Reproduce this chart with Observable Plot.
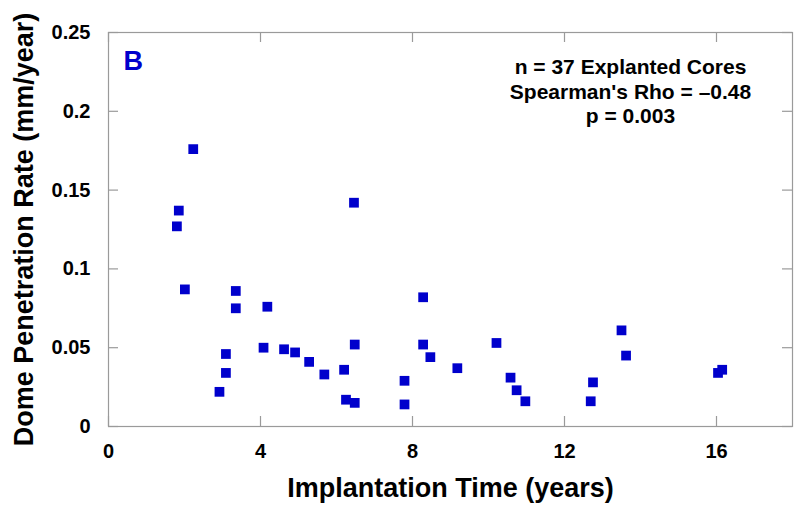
<!DOCTYPE html>
<html>
<head>
<meta charset="utf-8">
<script src="https://cdn.jsdelivr.net/npm/d3@7"></script>
<script src="https://cdn.jsdelivr.net/npm/@observablehq/plot@0.6"></script>
<style>
  html, body { margin: 0; padding: 0; background: #fff; }
</style>
</head>
<body>
<div id="chart"></div>
<script>
// Implantation time (years) and dome penetration rate (mm/year)
const years = [1.80, 1.85, 2.01, 2.23, 2.92, 3.09, 3.09, 3.35, 3.35, 4.08, 4.18, 4.62, 4.91, 5.28, 5.68, 6.20, 6.25, 6.46, 6.48, 6.48, 7.79, 7.79, 8.28, 8.28, 8.47, 9.18, 10.21, 10.58, 10.74, 10.97, 12.69, 12.75, 13.50, 13.62, 16.04, 16.15];
const rates = [0.127, 0.137, 0.087, 0.176, 0.022, 0.046, 0.034, 0.086, 0.075, 0.050, 0.076, 0.049, 0.047, 0.041, 0.033, 0.036, 0.017, 0.142, 0.052, 0.015, 0.029, 0.014, 0.082, 0.052, 0.044, 0.037, 0.053, 0.031, 0.023, 0.016, 0.016, 0.028, 0.061, 0.045, 0.034, 0.036];

const xTicks = [0, 4, 8, 12, 16];
const yTicks = [0, 0.05, 0.1, 0.15, 0.2, 0.25];
const yTickLabels = ["0", "0.05", "0.1", "0.15", "0.2", "0.25"];

const panelLabel = "B";
const statLines = ["n = 37 Explanted Cores", "Spearman's Rho = \u20130.48", "p = 0.003"];
const xTitle = "Implantation Time (years)";
const yTitle = "Dome Penetration Rate (mm/year)";

const points = years.map((x, i) => ({x, y: rates[i]}));

const W = 800, H = 509;
const mL = 108, mR = 8, mT = 32, mB = 83;
const innerW = W - mL - mR, innerH = H - mT - mB;
const tickLen = 10;
const axisGray = "#9a9a9a";
const blue = "#0000cc";

const statBaselines = [41, 66, 90];
const statMarks = statLines.map((s, i) =>
  Plot.text([s], {text: d => d, frameAnchor: "top-left", textAnchor: "middle", lineAnchor: "bottom",
    dx: 522, dy: statBaselines[i], fontSize: 21, fontWeight: "bold", fill: "#000"}));

const chart = Plot.plot({
  width: W,
  height: H,
  marginLeft: mL,
  marginRight: mR,
  marginTop: mT,
  marginBottom: mB,
  style: {fontFamily: "'Liberation Sans', Arial, sans-serif", fontSize: "20px", background: "#fff", color: "#000"},
  x: {domain: [0, 18]},
  y: {domain: [0, 0.25]},
  marks: [
    Plot.frame({stroke: axisGray, strokeWidth: 1.2}),
    // inward ticks on all four sides
    Plot.tickX(xTicks, {x: d => d, insetTop: innerH - tickLen, stroke: axisGray, strokeWidth: 1.2}),
    Plot.tickX(xTicks, {x: d => d, insetBottom: innerH - tickLen, stroke: axisGray, strokeWidth: 1.2}),
    Plot.tickY(yTicks, {y: d => d, insetRight: innerW - tickLen, stroke: axisGray, strokeWidth: 1.2}),
    Plot.tickY(yTicks, {y: d => d, insetLeft: innerW - tickLen, stroke: axisGray, strokeWidth: 1.2}),
    Plot.axisX(xTicks, {tickSize: 0, tickPadding: 17, fontSize: 20, fontWeight: "bold", fill: "#000", label: null, tickFormat: d => String(d)}),
    Plot.axisY(yTicks, {tickSize: 0, tickPadding: 18, fontSize: 20, fontWeight: "bold", fill: "#000", label: null, tickFormat: (d, i) => yTickLabels[i]}),
    Plot.dot(points, {x: "x", y: "y", symbol: "square", r: 5.5, fill: blue, stroke: null}),
    // titles
    Plot.text([xTitle], {text: d => d, frameAnchor: "bottom", textAnchor: "middle", lineAnchor: "bottom", dy: 70, fontSize: 27, fontWeight: "bold", fill: "#000"}),
    Plot.text([yTitle], {text: d => d, frameAnchor: "left", textAnchor: "middle", rotate: -90, lineAnchor: "bottom", dx: -76, fontSize: 27, fontWeight: "bold", fill: "#000"}),
    Plot.text([panelLabel], {text: d => d, frameAnchor: "top-left", textAnchor: "start", lineAnchor: "bottom", dx: 15, dy: 37, fontSize: 27, fontWeight: "bold", fill: blue}),
    ...statMarks
  ]
});
document.getElementById("chart").appendChild(chart);
</script>
</body>
</html>
